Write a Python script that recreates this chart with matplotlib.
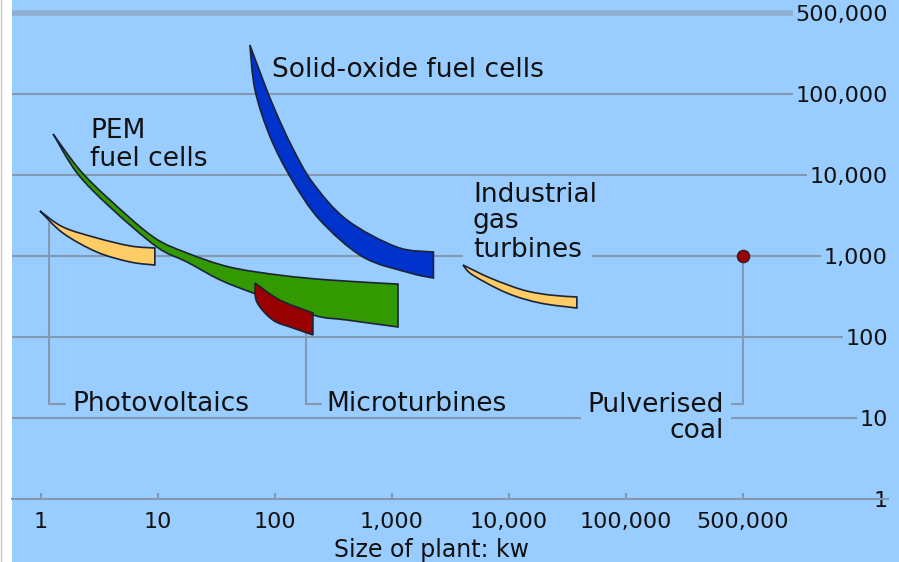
import numpy as np
import matplotlib
matplotlib.use('Agg')
import matplotlib.pyplot as plt
from matplotlib.lines import Line2D
from matplotlib.path import Path
from matplotlib.patches import PathPatch

# cost of electricity equipment vs size of plant (kW)
x_ticks = [1, 10, 100, 1000, 10000, 100000, 500000]
x_tick_labels = ['1', '10', '100', '1,000', '10,000', '100,000', '500,000']
y_ticks = [1, 10, 100, 1000, 10000, 100000, 500000]
y_tick_labels = ['1', '10', '100', '1,000', '10,000', '100,000', '500,000']

sofc_upper_x = [61, 79, 100, 140, 211, 413, 1100, 2260]
sofc_upper_y = [265000, 132000, 63400, 22200, 7970, 2780, 1290, 1120]
sofc_lower_x = [61, 67.5, 91, 140, 242, 565, 1430, 2260]
sofc_lower_y = [265000, 108000, 29400, 8670, 2780, 972, 617, 535]

pem_upper_x = [1.27, 2.15, 3.9, 9.1, 17.7, 41, 110, 295, 1125]
pem_upper_y = [32000, 11500, 4900, 1720, 1090, 730, 580, 505, 450]
pem_lower_x = [1.27, 2.03, 3.9, 9.8, 17.7, 34, 65, 211, 412, 1125]
pem_lower_y = [32000, 10600, 4000, 1290, 843, 506, 349, 187, 162, 133]

pv_upper_x = [0.98, 1.54, 3.0, 5.8, 9.4]
pv_upper_y = [3600, 2280, 1670, 1330, 1255]
pv_lower_x = [0.98, 1.54, 3.0, 5.8, 9.4]
pv_lower_y = [3600, 1920, 1120, 843, 774]

micro_upper_x = [67.5, 110, 211]
micro_upper_y = [464, 286, 198]
micro_lower_x = [67.5, 70, 96, 143, 211]
micro_lower_y = [464, 270, 162, 129, 106]

gas_upper_x = [4050, 6900, 13200, 22400, 38000]
gas_upper_y = [774, 535, 380, 330, 312]
gas_lower_x = [4050, 4900, 9600, 18400, 38000]
gas_lower_y = [774, 582, 349, 263, 228]

coal_x = [500000]
coal_y = [1000]

colors = {
    'bg': '#99CCFF',
    'grid': '#8499AF',
    'top': '#8FAED0',
    'edge': '#1B2436',
    'sofc': '#0033CC',
    'pem': '#339900',
    'pv': '#FFCC66',
    'micro': '#990000',
    'gas': '#FFCC66',
    'text': '#111111',
}

W, H = 899, 562
LOG5 = np.log10(5)


# decades are evenly spaced; the last step (100,000 -> 500,000) gets a full decade
def forward(v):
    v = np.clip(np.asarray(v, dtype=float), 1e-12, None)
    lg = np.log10(v)
    return np.where(lg <= 5, lg, 5 + (lg - 5) / LOG5)


def inverse(p):
    p = np.asarray(p, dtype=float)
    return np.where(p <= 5, 10.0 ** p, 10.0 ** (5 + (p - 5) * LOG5))


def fxy(px, py):
    return px / W, 1 - py / H


def smooth_edge(xs, ys):
    # cubic bezier pieces through the read points, built in scale space
    P = np.column_stack([forward(xs), forward(ys)])
    n = len(P)
    verts = []
    for i in range(n - 1):
        p0 = P[i - 1] if i > 0 else P[i]
        p1, p2 = P[i], P[i + 1]
        p3 = P[i + 2] if i + 2 < n else P[i + 1]
        verts += [p1 + (p2 - p0) / 6, p2 - (p3 - p1) / 6, p2]
    return P[0], verts


fig = plt.figure(figsize=(W / 100, H / 100), dpi=100, facecolor='white')
ax = fig.add_axes([12 / W, 0, 1 - 12 / W, 1])
ax.set_facecolor(colors['bg'])
ax.set_xscale('function', functions=(forward, inverse))
ax.set_yscale('function', functions=(forward, inverse))
ax.set_xlim(inverse((12 - 41) / 117), inverse((899 - 41) / 117))
ax.set_ylim(inverse((499 - 562) / 81), inverse(499 / 81))

for s in ['top', 'left', 'right']:
    ax.spines[s].set_visible(False)
line_end = inverse((888 - 41) / 117)
ax.spines['bottom'].set_position(('data', 1))
ax.spines['bottom'].set_color(colors['grid'])
ax.spines['bottom'].set_linewidth(1.5)
ax.spines['bottom'].set_bounds(ax.get_xlim()[0], line_end)

gx = (888 - 12) / 887
for v in y_ticks[1:-1]:
    ax.axhline(v, xmax=gx, color=colors['grid'], linewidth=1.5, zorder=1)
ax.axhline(y_ticks[-1], xmax=gx, color=colors['top'], linewidth=4, zorder=1)

ax.set_xticks(x_ticks)
ax.set_xticklabels(x_tick_labels)
ax.tick_params(axis='x', direction='in', length=4.5, width=1.5, color=colors['grid'],
               labelsize=16, labelcolor=colors['text'], pad=9)
ax.xaxis.set_minor_locator(plt.NullLocator())

ax.yaxis.tick_right()
ax.set_yticks(y_ticks)
ax.set_yticklabels(y_tick_labels)
ax.yaxis.set_minor_locator(plt.NullLocator())
ax.tick_params(axis='y', length=0, labelsize=16, labelcolor=colors['text'], pad=-8)
for lab in ax.get_yticklabels():
    lab.set_horizontalalignment('right')
    lab.set_bbox(dict(facecolor=colors['bg'], edgecolor='none', pad=2))

ax.set_xlabel('Size of plant: kw', fontsize=17, color=colors['text'])
ax.xaxis.set_label_coords((431 - 12) / 887, (562 - 538) / H)


def band(ux, uy, lx, ly, color):
    start, up = smooth_edge(ux, uy)
    lstart, low = smooth_edge(list(lx)[::-1], list(ly)[::-1])
    verts = [start] + up + [lstart] + low + [start]
    codes = ([Path.MOVETO] + [Path.CURVE4] * len(up) + [Path.LINETO]
             + [Path.CURVE4] * len(low) + [Path.CLOSEPOLY])
    verts = inverse(np.array(verts))
    ax.add_patch(PathPatch(Path(verts, codes), facecolor=color,
                           edgecolor=colors['edge'], linewidth=1.2, zorder=5))


band(sofc_upper_x, sofc_upper_y, sofc_lower_x, sofc_lower_y, colors['sofc'])
band(pv_upper_x, pv_upper_y, pv_lower_x, pv_lower_y, colors['pv'])
band(pem_upper_x, pem_upper_y, pem_lower_x, pem_lower_y, colors['pem'])
band(micro_upper_x, micro_upper_y, micro_lower_x, micro_lower_y, colors['micro'])
band(gas_upper_x, gas_upper_y, gas_lower_x, gas_lower_y, colors['gas'])

# leader lines to the labels
label_y = 14.9
lead = dict(color=colors['grid'], linewidth=1.5, zorder=3, solid_capstyle='butt')
ax.plot([1.17, 1.17, 1.64], [2600, label_y, label_y], **lead)
ax.plot([184, 184, 252], [112, label_y, label_y], **lead)
ax.plot([coal_x[0], coal_x[0], 4.07e5], [coal_y[0], label_y, label_y], **lead)

ax.plot(coal_x, coal_y, 'o', markersize=9, color=colors['micro'],
        markeredgecolor=colors['edge'], markeredgewidth=0.8, zorder=6)

txt = dict(fontsize=19, color=colors['text'], va='center', transform=fig.transFigure)
ax.text(*fxy(272, 70), 'Solid-oxide fuel cells', ha='left', zorder=4, **txt)
ax.text(*fxy(90, 145), 'PEM\nfuel cells', ha='left', linespacing=1.05, zorder=4, **txt)
ax.text(*fxy(473, 250), 'turbines', ha='left', zorder=4,
        bbox=dict(facecolor=colors['bg'], edgecolor='none', pad=7), **txt)
ax.text(*fxy(473, 208), 'Industrial\ngas', ha='left', linespacing=1.0, zorder=4.5, **txt)
ax.text(*fxy(72, 404), 'Photovoltaics', ha='left', zorder=4, **txt)
ax.text(*fxy(326, 404), 'Microturbines', ha='left', zorder=4, **txt)
ax.text(*fxy(724, 418), 'Pulverised\ncoal', ha='right', multialignment='right',
        linespacing=1.0, zorder=4,
        bbox=dict(facecolor=colors['bg'], edgecolor='none', pad=5), **txt)

fig.add_artist(Line2D([0.5 / W, 0.5 / W], [0, 1], color='#C8C8C8', linewidth=1))

plt.savefig('out.png', dpi=100, facecolor='white')
plt.close()
